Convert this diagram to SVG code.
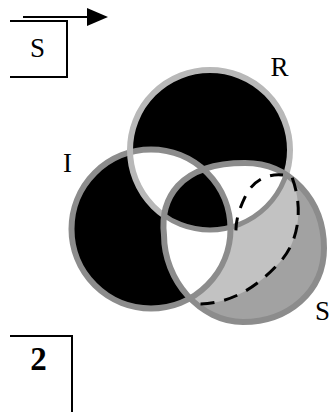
<svg xmlns="http://www.w3.org/2000/svg" width="330" height="412" viewBox="0 0 330 412">
<style>
.lbl{font-family:"Liberation Serif","Times New Roman",serif;font-size:27px;fill:#000;text-anchor:middle}
.num{font-family:"Liberation Serif","Times New Roman",serif;font-size:33px;font-weight:bold;fill:#000;text-anchor:middle}
.box{fill:none;stroke:#000;stroke-width:2}
.ringMid{fill:none;stroke:#8c8c8c;stroke-width:6}
.ringLight{fill:none;stroke:#b8b8b8;stroke-width:6}
.dash{fill:none;stroke:#000;stroke-width:3}
</style>
<defs>
<circle id="cR" cx="210" cy="150" r="80"/>
<circle id="cI" cx="151" cy="229" r="79.5"/>
<path id="pS" d="M245,163 C290,163 324,200 324,248 C324,292 288,322 243,322 C200,322 164,280 164,235 C160,200 178,163 245,163 Z"/>
<clipPath id="clipR"><use href="#cR"/></clipPath>
<clipPath id="clipI"><use href="#cI"/></clipPath>
<clipPath id="clipS"><use href="#pS"/></clipPath>
<clipPath id="clipNotS"><path clip-rule="evenodd" d="M0,0H330V412H0Z M245,163 C290,163 324,200 324,248 C324,292 288,322 243,322 C200,322 164,280 164,235 C160,200 178,163 245,163 Z"/></clipPath>
<marker id="arrow" markerWidth="22" markerHeight="19" refX="0" refY="9" orient="auto" markerUnits="userSpaceOnUse"><path d="M0,0 L21,9 L0,18 Z" fill="#000"/></marker>
</defs>

<g id="box-top">
<path class="box" d="M10,21 H67 V77 H10"/>
<text class="lbl" x="37.5" y="57">S</text>
</g>

<g id="box-bottom">
<path class="box" d="M10,336 H72 V412"/>
<text class="num" x="38.5" y="370">2</text>
</g>

<g id="ring-fills">
<use href="#cR" fill="#000"/>
<use href="#cI" fill="#000"/>
<g clip-path="url(#clipR)"><use href="#cI" fill="#fff"/></g>
<use href="#pS" fill="#c2c2c2"/>
<g clip-path="url(#clipS)">
<path d="M290,172 C304,205 300,240 280,262 S235,303 200,304 L200,340 L340,340 L340,140 L290,140 Z" fill="#a2a2a2"/>
<use href="#cI" fill="#fff"/>
<use href="#cR" fill="#fff"/>
<g clip-path="url(#clipI)"><use href="#cR" fill="#000"/></g>
</g>
</g>

<g id="node-I">
<use href="#cI" class="ringMid"/>
<text class="lbl" x="67.5" y="172">I</text>
</g>

<g id="node-R">
<g clip-path="url(#clipNotS)"><use href="#cR" class="ringLight"/></g>
<g clip-path="url(#clipS)"><use href="#cR" class="ringMid" style="stroke-width:5"/></g>
<text class="lbl" x="279.5" y="76">R</text>
</g>

<g id="node-S">
<use href="#pS" class="ringMid"/>
<text class="lbl" x="322.5" y="320">S</text>
</g>

<g id="connectors">
<path d="M23,17 H87" stroke="#000" stroke-width="2" fill="none" marker-end="url(#arrow)"/>
<path class="dash" stroke-dasharray="13 10" d="M283,175 C265,173 252,183 246,195 C240,207 235,220 236,236"/>
<path class="dash" stroke-dasharray="14 10" stroke-dashoffset="-6" d="M290,172 C304,205 300,240 280,262 S235,303 200,304"/>
</g>
</svg>
